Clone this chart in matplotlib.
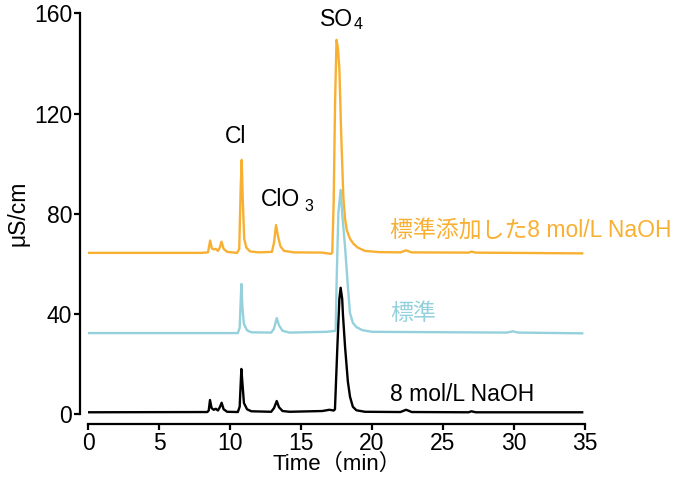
import matplotlib
matplotlib.use("Agg")
import matplotlib.pyplot as plt

plt.rcParams['font.family'] = ['Liberation Sans', 'Noto Sans CJK JP', 'DejaVu Sans']

# Chromatogram traces (time in min, conductivity in µS/cm)
spiked_t = [0.0, 8.0, 8.45, 8.6, 8.72, 8.85, 9.0, 9.15, 9.28, 9.4, 9.55, 9.8,
            10.5, 10.65, 10.75, 10.82, 10.9, 11.0, 11.15, 11.4, 12.0,
            12.95, 13.1, 13.24, 13.4, 13.55, 13.8, 14.5, 16.5, 17.1, 17.2,
            17.3, 17.4, 17.5, 17.6, 17.7, 17.82, 17.98, 18.1, 18.22, 18.45,
            18.7, 19.0, 19.5, 20.5, 22.0, 22.4, 22.8, 26.8, 27.0, 27.3, 34.8]
spiked_v = [64.4, 64.4, 64.6, 69.3, 66.2, 65.8, 66.0, 65.2, 66.5, 68.9, 66.0, 64.8,
            64.4, 66.0, 90.0, 101.5, 85.0, 70.0, 66.5, 65.0, 64.6,
            64.8, 68.5, 75.5, 70.5, 67.0, 65.2, 64.6, 64.5, 64.0, 64.5,
            85.0, 125.0, 149.4, 146.0, 138.0, 113.4, 86.7, 78.0, 73.5, 70.0,
            68.0, 66.5, 65.2, 64.7, 64.6, 65.4, 64.6, 64.5, 64.9, 64.5, 64.2]

std_t = [0.0, 10.55, 10.68, 10.75, 10.8, 10.88, 10.98, 11.2, 11.5, 12.9,
         13.1, 13.29, 13.45, 13.7, 14.2, 16.8, 17.3, 17.44, 17.51, 17.63,
         17.79, 17.9, 18.1, 18.3, 18.45, 18.65, 18.9, 19.3, 20.0, 29.5,
         29.9, 30.3, 34.8]
std_v = [32.4, 32.4, 34.5, 45.0, 52.0, 42.0, 36.0, 33.5, 32.7, 32.6,
         34.2, 38.4, 35.5, 33.3, 32.6, 32.9, 33.2, 33.4, 53.6, 80.3,
         89.5, 80.0, 66.8, 51.0, 40.4, 36.5, 34.8, 33.6, 32.9, 32.6,
         33.1, 32.6, 32.3]

naoh_t = [0.0, 8.4, 8.5, 8.59, 8.7, 8.85, 9.0, 9.15, 9.28, 9.41, 9.55, 9.8,
          10.55, 10.68, 10.75, 10.8, 10.88, 10.98, 11.2, 11.5, 12.9,
          13.1, 13.29, 13.45, 13.7, 14.2, 16.5, 17.0, 17.3, 17.39, 17.56,
          17.7, 17.79, 17.9, 17.95, 18.1, 18.3, 18.45, 18.65, 18.9, 19.5,
          22.0, 22.4, 22.8, 26.8, 27.0, 27.3, 34.8]
naoh_v = [0.8, 0.9, 1.5, 5.7, 2.5, 1.8, 2.2, 1.5, 2.8, 4.6, 2.0, 1.0,
          0.9, 3.0, 12.0, 18.1, 12.0, 4.5, 2.0, 1.2, 1.0,
          2.5, 5.3, 2.8, 1.3, 1.0, 1.3, 1.8, 1.5, 2.0, 27.0,
          46.0, 50.5, 46.0, 40.0, 27.0, 13.0, 7.0, 3.0, 1.6, 1.0,
          0.9, 1.8, 0.9, 0.8, 1.2, 0.8, 0.8]

orange = '#F8B033'
blue = '#94D1DC'

fig = plt.figure(figsize=(6.86, 4.79), dpi=100)
ax = fig.add_axes([0.1283, 0.1351, 0.7245, 0.8372])

ax.plot(naoh_t, naoh_v, color='black', lw=1.7)
ax.plot(std_t, std_v, color=blue, lw=1.7)
ax.plot(spiked_t, spiked_v, color=orange, lw=1.7)

ax.set_xlim(0, 35)
ax.set_ylim(0, 160)
ax.set_xticks([0, 5, 10, 15, 20, 25, 30, 35])
ax.set_yticks([0, 40, 80, 120, 160])

for s in ['top', 'right']:
    ax.spines[s].set_visible(False)
ax.spines['left'].set_position(('outward', 6))
ax.spines['bottom'].set_position(('outward', 7))
ax.spines['left'].set_linewidth(1.6)
ax.spines['bottom'].set_linewidth(1.6)

fs = 16.5
ax.tick_params(labelsize=fs, width=1.6, length=4, pad=1.5)

ax.set_xlabel('Time（min）', fontsize=16, labelpad=-1)
ax.set_ylabel('μS/cm', fontsize=fs)
ax.yaxis.set_label_coords(-0.118, 0.5)

# peak labels
ax.text(10.42, 110.7, 'Cl', fontsize=fs, ha='center', va='center')
ax.text(12.2, 85.5, 'ClO', fontsize=fs, ha='left', va='center')
ax.text(15.25, 83.0, '3', fontsize=11.5, ha='left', va='center')
ax.text(16.35, 157.4, 'SO', fontsize=fs, ha='left', va='center')
ax.text(18.7, 155.4, '4', fontsize=11.5, ha='left', va='center')

# series labels
ax.text(21.27, 73.2, '標準添加した8 mol/L NaOH', fontsize=fs, color=orange,
        ha='left', va='center')
ax.text(21.27, 40.4, '標準', fontsize=fs, color=blue, ha='left', va='center')
ax.text(21.27, 7.7, '8 mol/L NaOH', fontsize=fs, color='black',
        ha='left', va='center')

fig.savefig('out.png', dpi=100)
